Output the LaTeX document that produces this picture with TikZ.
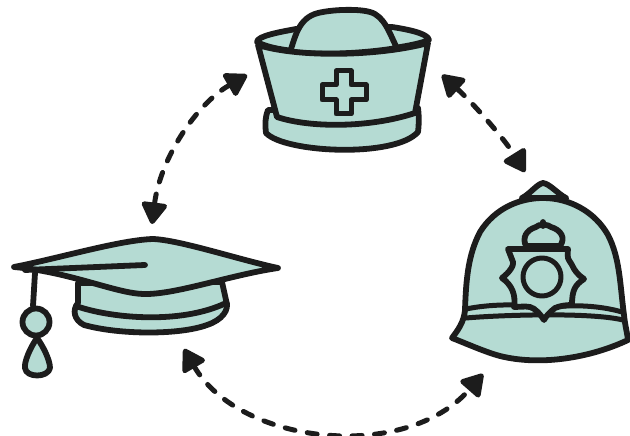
\documentclass[tikz,border=0pt]{standalone}
\usetikzlibrary{arrows.meta}
\definecolor{hatfill}{HTML}{B5DBD3}
\definecolor{ink}{HTML}{1C1C1C}
\tikzset{
  hat/.style={draw=ink,fill=hatfill,line width=5.8pt,line join=round,line cap=round},
  hatline/.style={draw=ink,line width=5.8pt,line join=round,line cap=round},
  thinline/.style={draw=ink,line width=5pt,line join=round,line cap=round},
  link/.style={draw=ink,line width=5pt,line cap=round,dash pattern=on 10pt off 12.5pt,
    {Triangle[length=24pt,width=28pt,round]}-{Triangle[length=24pt,width=28pt,round]}}
}
\begin{document}
\begin{tikzpicture}[x=1pt,y=-1pt]
\useasboundingbox (0,0) rectangle (630,436);
% nurse cap
\path[hat] (268,110) .. controls (265,118) and (265,124) .. (266,133)
  .. controls (285,153) and (395,158) .. (418,132) .. controls (419,124) and (419,116) .. (418,108) -- cycle;
\path[hat] (257,42) .. controls (257,36) and (280,32) .. (296,29)
  -- (392,27) .. controls (405,29) and (428,33) .. (429,40) .. controls (400,52) and (290,60) .. (257,42) -- cycle;
\path[hat] (290,52) .. controls (295,38) and (298,18) .. (318,13)
  .. controls (335,9) and (360,9) .. (370,12) .. controls (385,16) and (390,35) .. (397,48)
  .. controls (360,54) and (320,55) .. (290,52) -- cycle;
\path[hat] (258,45) .. controls (300,58) and (380,56) .. (428,43)
  -- (415,113) .. controls (370,128) and (310,128) .. (277,117) -- cycle;
\path[thinline] (336,71) -- (351,71) -- (351,85) -- (366,85) -- (366,100) -- (351,100)
  -- (351,114) -- (336,114) -- (336,100) -- (322,100) -- (322,85) -- (336,85) -- cycle;
% mortarboard
\path[hat] (78,283) -- (78,303) .. controls (72,310) and (74,320) .. (84,325)
  .. controls (120,335) and (180,335) .. (207,325) .. controls (222,320) and (230,310) .. (226,300)
  -- (222,282) -- cycle;
\path[hatline] (76,306) .. controls (110,318) and (180,325) .. (226,303);
\path[hat] (14,267) .. controls (60,258) and (120,240) .. (153,239)
  .. controls (180,240) and (240,260) .. (278,268)
  .. controls (230,275) and (175,295) .. (143,294)
  .. controls (115,293) and (70,272) .. (14,267) -- cycle;
\path[hatline] (25,270) -- (145,265);
\path[hatline] (35,273) -- (33,306);
\path[hat] (36,322) circle (13.5);
\path[hat] (37,338) .. controls (30,348) and (24,362) .. (25,368)
  .. controls (26,378) and (48,378) .. (50,368) .. controls (50,360) and (43,346) .. (37,338) -- cycle;
% police helmet
\path[hat] (522,198) .. controls (530,194) and (537,184) .. (543,183)
  .. controls (550,184) and (558,194) .. (566,198) -- cycle;
\path[hat] (465,310) .. controls (466,280) and (468,255) .. (480,232)
  .. controls (495,208) and (520,198) .. (543,198) .. controls (570,198) and (595,212) .. (608,235)
  .. controls (620,258) and (620,285) .. (624,315)
  .. controls (625,325) and (627,332) .. (628,340)
  .. controls (590,358) and (540,366) .. (500,356) .. controls (485,352) and (465,343) .. (452,338)
  .. controls (458,330) and (464,322) .. (465,310) -- cycle;
\path[thinline] (466,309) .. controls (490,304) and (520,304) .. (530,307);
\path[thinline] (553,307) .. controls (580,304) and (605,307) .. (622,312);
\path[thinline] (466,318) .. controls (500,315) and (590,312) .. (623,320);
\path[hat] (526,246) .. controls (522,238) and (526,230) .. (536,227)
  .. controls (538,224) and (548,224) .. (551,227) .. controls (561,230) and (566,238) .. (560,246) -- cycle;
\path[hatline] (543,222) -- (543,226);
\path[hat] (508,249) -- (568,249) .. controls (567,260) and (568,258) .. (572,265)
  .. controls (574,270) and (578,275) .. (584,279)
  .. controls (575,285) and (572,290) .. (572,305) -- (572,305) .. controls (565,305) and (560,306) .. (555,308)
  .. controls (550,312) and (546,316) .. (544,320)
  .. controls (541,315) and (535,308) .. (530,307) .. controls (525,306) and (518,307) .. (514,307)
  .. controls (516,295) and (512,285) .. (502,278)
  .. controls (510,272) and (514,265) .. (513,262) -- cycle;
\path[thinline] (542,277) circle (19);
% connectors
\coordinate (capNW) at (152,224);
\coordinate (nurseW) at (247,75);
\coordinate (nurseE) at (442,75);
\coordinate (helmN) at (525,172);
\coordinate (capS) at (184,349);
\coordinate (helmS) at (483,374);
\draw[link] (capNW) .. controls (160,160) and (195,105) .. (nurseW);
\draw[link] (nurseE) .. controls (475,105) and (505,140) .. (helmN);
\draw[link] (capS) .. controls (240,445) and (405,463) .. (helmS);
\end{tikzpicture}
\end{document}
